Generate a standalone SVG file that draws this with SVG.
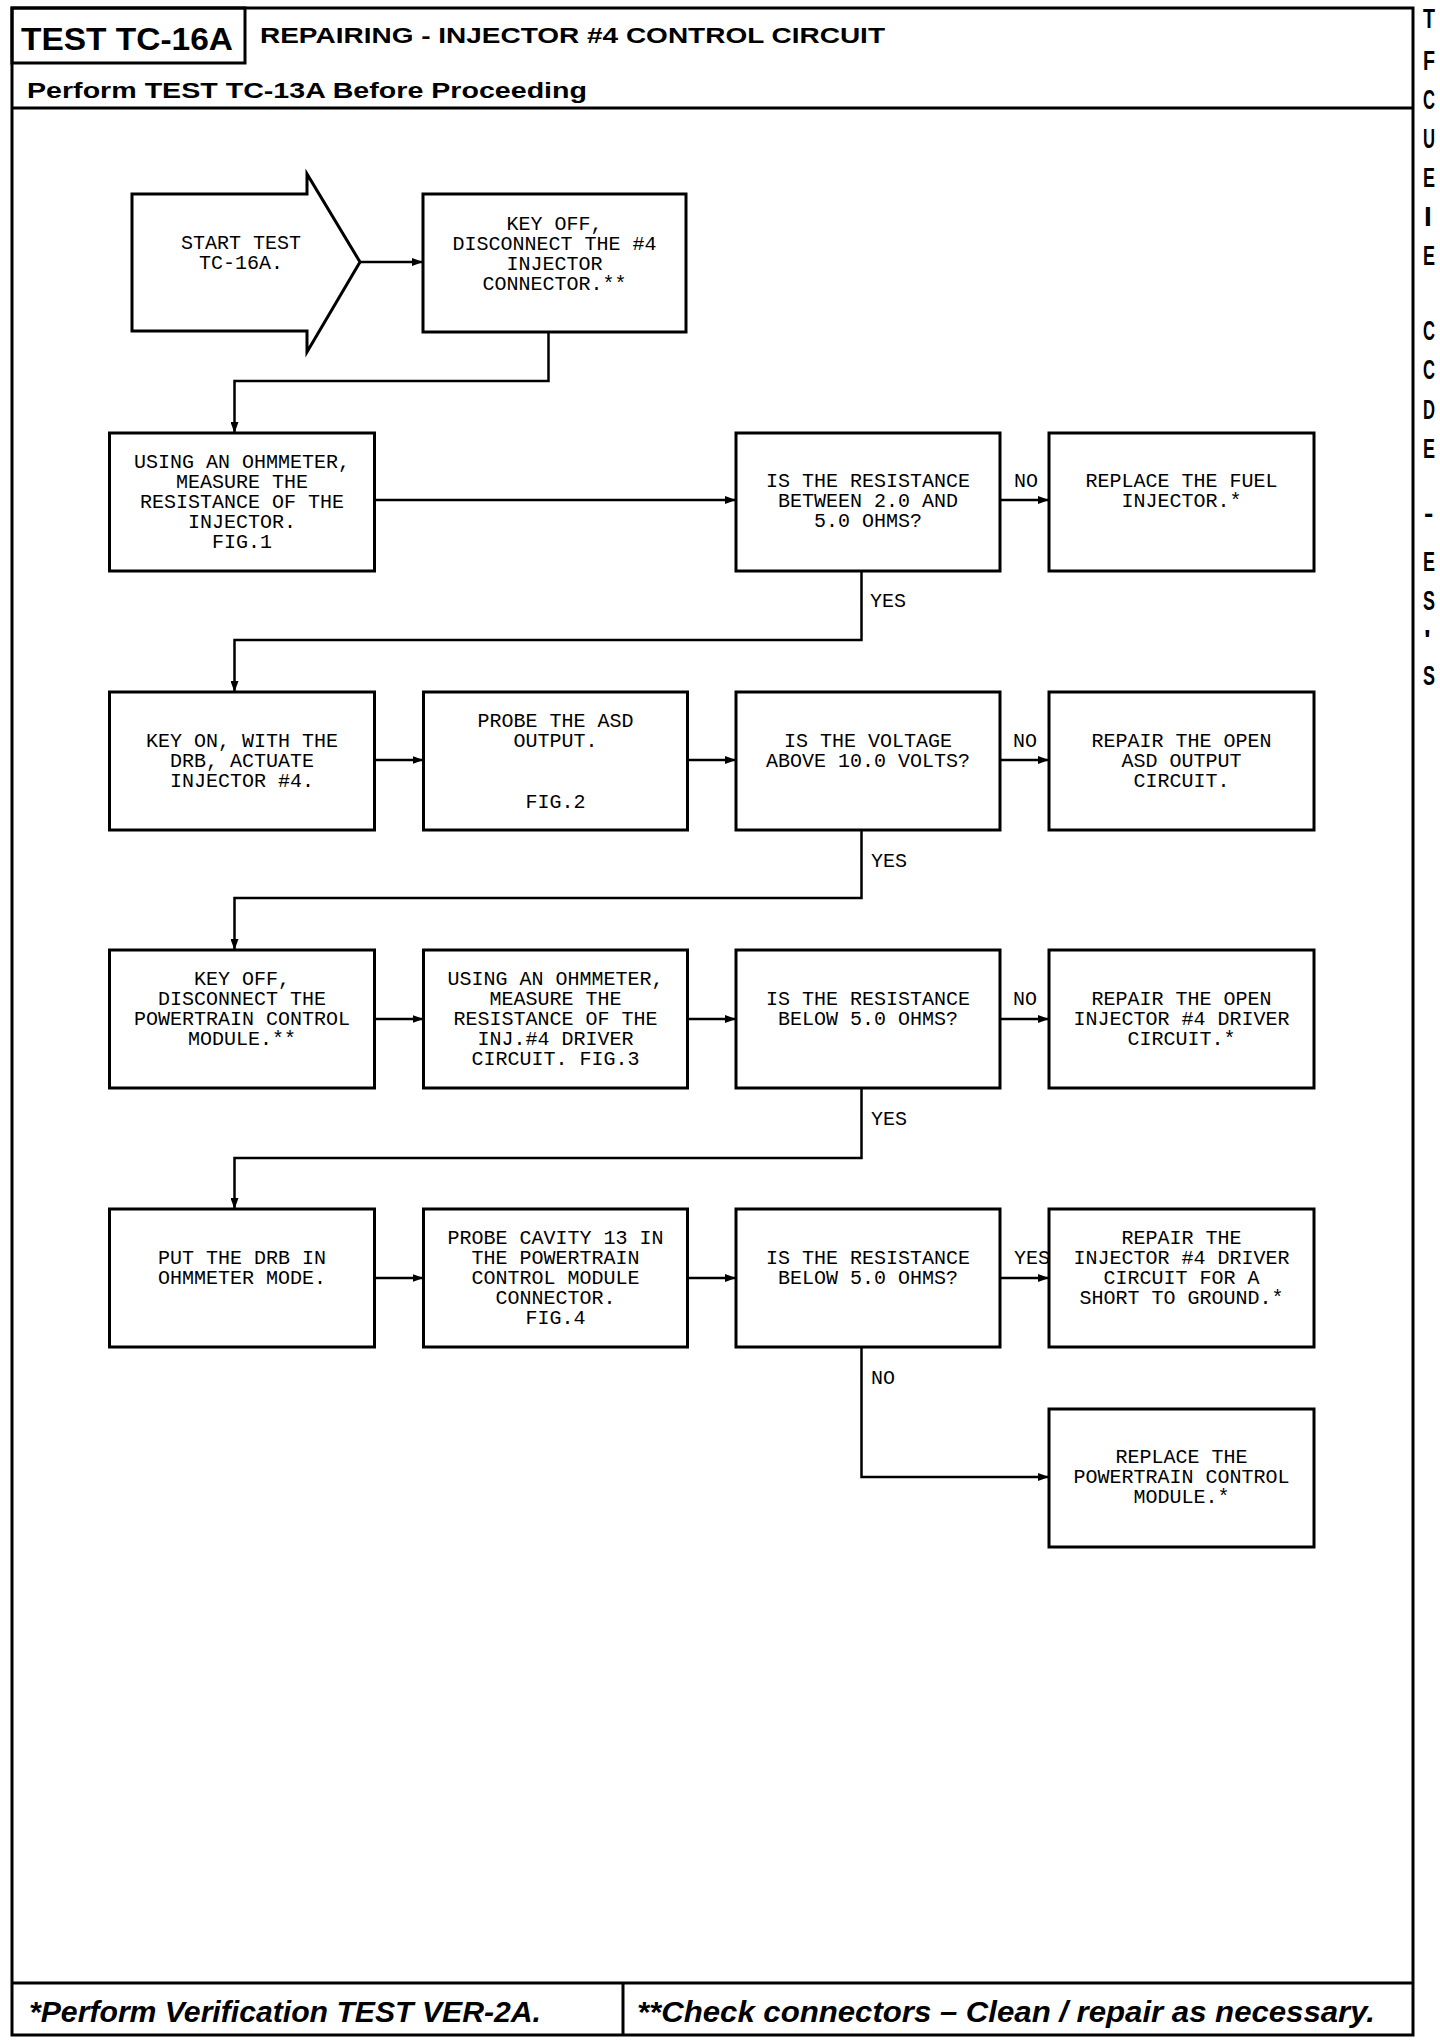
<svg xmlns="http://www.w3.org/2000/svg" width="1440" height="2042" viewBox="0 0 1440 2042">
<style>
.frame{fill:none;stroke:#000;stroke-width:3}
.box{fill:#fff;stroke:#000;stroke-width:3}
.ln{fill:none;stroke:#000;stroke-width:2.5}
.t{font-family:"Liberation Mono","DejaVu Sans Mono",monospace;font-size:20px;text-anchor:middle;fill:#000}
.lbl{font-family:"Liberation Mono","DejaVu Sans Mono",monospace;font-size:20px;fill:#000}
.hb{font-family:"Liberation Sans",Arial,sans-serif;font-weight:bold;fill:#000}
.ft{font-family:"Liberation Sans",Arial,sans-serif;font-weight:bold;font-style:italic;font-size:29px;fill:#000}
.edge{font-family:"Liberation Sans",Arial,sans-serif;font-weight:bold;font-size:28px;fill:#000}
</style>
<defs>
<marker id="ah" markerUnits="userSpaceOnUse" markerWidth="11" markerHeight="8" refX="11" refY="4" orient="auto">
<path d="M0,0 L11,4 L0,8 z" fill="#000"/>
</marker>
</defs>
<rect width="1440" height="2042" fill="#fff"/>

<g id="header">
<rect class="frame" x="12" y="8" width="1401" height="2027"/>
<rect class="frame" x="12" y="8" width="233" height="55"/>
<text class="hb" x="21" y="50" font-size="32" textLength="212" lengthAdjust="spacingAndGlyphs">TEST TC-16A</text>
<text class="hb" x="260" y="43" font-size="22" textLength="625" lengthAdjust="spacingAndGlyphs">REPAIRING - INJECTOR #4 CONTROL CIRCUIT</text>
<line class="frame" x1="12" y1="108" x2="1413" y2="108"/>
<text class="hb" x="27" y="98" font-size="22" textLength="560" lengthAdjust="spacingAndGlyphs">Perform TEST TC-13A Before Proceeding</text>
</g>

<g id="footer">
<line class="frame" x1="12" y1="1983" x2="1413" y2="1983"/>
<line class="frame" x1="623" y1="1983" x2="623" y2="2035"/>
<text class="ft" x="29" y="2022" textLength="512" lengthAdjust="spacingAndGlyphs">*Perform Verification TEST VER-2A.</text>
<text class="ft" x="637" y="2022" textLength="738" lengthAdjust="spacingAndGlyphs">**Check connectors – Clean / repair as necessary.</text>
</g>

<g id="edge-text">
<text class="edge" x="1423" y="28" textLength="12" lengthAdjust="spacingAndGlyphs">T</text>
<text class="edge" x="1423" y="70" textLength="12" lengthAdjust="spacingAndGlyphs">F</text>
<text class="edge" x="1423" y="109" textLength="12" lengthAdjust="spacingAndGlyphs">C</text>
<text class="edge" x="1423" y="148" textLength="12" lengthAdjust="spacingAndGlyphs">U</text>
<text class="edge" x="1423" y="187" textLength="12" lengthAdjust="spacingAndGlyphs">E</text>
<text class="edge" x="1424" y="226">I</text>
<text class="edge" x="1423" y="265" textLength="12" lengthAdjust="spacingAndGlyphs">E</text>
<text class="edge" x="1423" y="340" textLength="12" lengthAdjust="spacingAndGlyphs">C</text>
<text class="edge" x="1423" y="379" textLength="12" lengthAdjust="spacingAndGlyphs">C</text>
<text class="edge" x="1423" y="419" textLength="12" lengthAdjust="spacingAndGlyphs">D</text>
<text class="edge" x="1423" y="458" textLength="12" lengthAdjust="spacingAndGlyphs">E</text>
<text class="edge" x="1424" y="523">-</text>
<text class="edge" x="1423" y="571" textLength="12" lengthAdjust="spacingAndGlyphs">E</text>
<text class="edge" x="1423" y="610" textLength="12" lengthAdjust="spacingAndGlyphs">S</text>
<text class="edge" x="1424" y="649">'</text>
<text class="edge" x="1423" y="685" textLength="12" lengthAdjust="spacingAndGlyphs">S</text>
</g>

<g id="connectors">
<line class="ln" x1="360" y1="262" x2="423" y2="262" marker-end="url(#ah)"/>
<polyline class="ln" points="548.5,332 548.5,381 234.5,381 234.5,433" marker-end="url(#ah)"/>
<line class="ln" x1="374.5" y1="500" x2="736" y2="500" marker-end="url(#ah)"/>
<line class="ln" x1="1000" y1="500" x2="1049" y2="500" marker-end="url(#ah)"/>
<polyline class="ln" points="861.5,571 861.5,640 234.5,640 234.5,692" marker-end="url(#ah)"/>
<line class="ln" x1="374.5" y1="760" x2="423.5" y2="760" marker-end="url(#ah)"/>
<line class="ln" x1="687.5" y1="760" x2="736" y2="760" marker-end="url(#ah)"/>
<line class="ln" x1="1000" y1="760" x2="1049" y2="760" marker-end="url(#ah)"/>
<polyline class="ln" points="861.5,830 861.5,898 234.5,898 234.5,950" marker-end="url(#ah)"/>
<line class="ln" x1="374.5" y1="1019" x2="423.5" y2="1019" marker-end="url(#ah)"/>
<line class="ln" x1="687.5" y1="1019" x2="736" y2="1019" marker-end="url(#ah)"/>
<line class="ln" x1="1000" y1="1019" x2="1049" y2="1019" marker-end="url(#ah)"/>
<polyline class="ln" points="861.5,1088 861.5,1158 234.5,1158 234.5,1209" marker-end="url(#ah)"/>
<line class="ln" x1="374.5" y1="1278" x2="423.5" y2="1278" marker-end="url(#ah)"/>
<line class="ln" x1="687.5" y1="1278" x2="736" y2="1278" marker-end="url(#ah)"/>
<line class="ln" x1="1000" y1="1278" x2="1049" y2="1278" marker-end="url(#ah)"/>
<polyline class="ln" points="861.5,1347 861.5,1477 1049,1477" marker-end="url(#ah)"/>
<text class="lbl" x="1014" y="487">NO</text>
<text class="lbl" x="870" y="607">YES</text>
<text class="lbl" x="1013" y="747">NO</text>
<text class="lbl" x="871" y="867">YES</text>
<text class="lbl" x="1013" y="1005">NO</text>
<text class="lbl" x="871" y="1125">YES</text>
<text class="lbl" x="1014" y="1264">YES</text>
<text class="lbl" x="871" y="1384">NO</text>
</g>

<g id="start">
<polygon class="box" points="132,194 307,194 307,174 360,262 307,352 307,331 132,331"/>
<text class="t" x="241" y="249">START TEST</text>
<text class="t" x="241" y="269">TC-16A.</text>
</g>

<g id="key-off-1">
<rect class="box" x="423" y="194" width="263" height="138"/>
<text class="t" x="554.5" y="230">KEY OFF,</text>
<text class="t" x="554.5" y="250">DISCONNECT THE #4</text>
<text class="t" x="554.5" y="270">INJECTOR</text>
<text class="t" x="554.5" y="290">CONNECTOR.**</text>
</g>

<g id="measure-injector">
<rect class="box" x="109.5" y="433" width="265" height="138"/>
<text class="t" x="242" y="468">USING AN OHMMETER,</text>
<text class="t" x="242" y="488">MEASURE THE</text>
<text class="t" x="242" y="508">RESISTANCE OF THE</text>
<text class="t" x="242" y="528">INJECTOR.</text>
<text class="t" x="242" y="548">FIG.1</text>
</g>

<g id="decision-1">
<rect class="box" x="736" y="433" width="264" height="138"/>
<text class="t" x="868" y="487">IS THE RESISTANCE</text>
<text class="t" x="868" y="507">BETWEEN 2.0 AND</text>
<text class="t" x="868" y="527">5.0 OHMS?</text>
</g>

<g id="replace-injector">
<rect class="box" x="1049" y="433" width="265" height="138"/>
<text class="t" x="1181.5" y="487">REPLACE THE FUEL</text>
<text class="t" x="1181.5" y="507">INJECTOR.*</text>
</g>

<g id="key-on">
<rect class="box" x="109.5" y="692" width="265" height="138"/>
<text class="t" x="242" y="747">KEY ON, WITH THE</text>
<text class="t" x="242" y="767">DRB, ACTUATE</text>
<text class="t" x="242" y="787">INJECTOR #4.</text>
</g>

<g id="probe-asd">
<rect class="box" x="423.5" y="692" width="264" height="138"/>
<text class="t" x="555.5" y="727">PROBE THE ASD</text>
<text class="t" x="555.5" y="747">OUTPUT.</text>
<text class="t" x="555.5" y="808">FIG.2</text>
</g>

<g id="decision-2">
<rect class="box" x="736" y="692" width="264" height="138"/>
<text class="t" x="868" y="747">IS THE VOLTAGE</text>
<text class="t" x="868" y="767">ABOVE 10.0 VOLTS?</text>
</g>

<g id="repair-asd">
<rect class="box" x="1049" y="692" width="265" height="138"/>
<text class="t" x="1181.5" y="747">REPAIR THE OPEN</text>
<text class="t" x="1181.5" y="767">ASD OUTPUT</text>
<text class="t" x="1181.5" y="787">CIRCUIT.</text>
</g>

<g id="key-off-2">
<rect class="box" x="109.5" y="950" width="265" height="138"/>
<text class="t" x="242" y="985">KEY OFF,</text>
<text class="t" x="242" y="1005">DISCONNECT THE</text>
<text class="t" x="242" y="1025">POWERTRAIN CONTROL</text>
<text class="t" x="242" y="1045">MODULE.**</text>
</g>

<g id="measure-driver">
<rect class="box" x="423.5" y="950" width="264" height="138"/>
<text class="t" x="555.5" y="985">USING AN OHMMETER,</text>
<text class="t" x="555.5" y="1005">MEASURE THE</text>
<text class="t" x="555.5" y="1025">RESISTANCE OF THE</text>
<text class="t" x="555.5" y="1045">INJ.#4 DRIVER</text>
<text class="t" x="555.5" y="1065">CIRCUIT. FIG.3</text>
</g>

<g id="decision-3">
<rect class="box" x="736" y="950" width="264" height="138"/>
<text class="t" x="868" y="1005">IS THE RESISTANCE</text>
<text class="t" x="868" y="1025">BELOW 5.0 OHMS?</text>
</g>

<g id="repair-open-driver">
<rect class="box" x="1049" y="950" width="265" height="138"/>
<text class="t" x="1181.5" y="1005">REPAIR THE OPEN</text>
<text class="t" x="1181.5" y="1025">INJECTOR #4 DRIVER</text>
<text class="t" x="1181.5" y="1045">CIRCUIT.*</text>
</g>

<g id="ohmmeter-mode">
<rect class="box" x="109.5" y="1209" width="265" height="138"/>
<text class="t" x="242" y="1264">PUT THE DRB IN</text>
<text class="t" x="242" y="1284">OHMMETER MODE.</text>
</g>

<g id="probe-cavity">
<rect class="box" x="423.5" y="1209" width="264" height="138"/>
<text class="t" x="555.5" y="1244">PROBE CAVITY 13 IN</text>
<text class="t" x="555.5" y="1264">THE POWERTRAIN</text>
<text class="t" x="555.5" y="1284">CONTROL MODULE</text>
<text class="t" x="555.5" y="1304">CONNECTOR.</text>
<text class="t" x="555.5" y="1324">FIG.4</text>
</g>

<g id="decision-4">
<rect class="box" x="736" y="1209" width="264" height="138"/>
<text class="t" x="868" y="1264">IS THE RESISTANCE</text>
<text class="t" x="868" y="1284">BELOW 5.0 OHMS?</text>
</g>

<g id="repair-short">
<rect class="box" x="1049" y="1209" width="265" height="138"/>
<text class="t" x="1181.5" y="1244">REPAIR THE</text>
<text class="t" x="1181.5" y="1264">INJECTOR #4 DRIVER</text>
<text class="t" x="1181.5" y="1284">CIRCUIT FOR A</text>
<text class="t" x="1181.5" y="1304">SHORT TO GROUND.*</text>
</g>

<g id="replace-pcm">
<rect class="box" x="1049" y="1409" width="265" height="138"/>
<text class="t" x="1181.5" y="1463">REPLACE THE</text>
<text class="t" x="1181.5" y="1483">POWERTRAIN CONTROL</text>
<text class="t" x="1181.5" y="1503">MODULE.*</text>
</g>
</svg>
